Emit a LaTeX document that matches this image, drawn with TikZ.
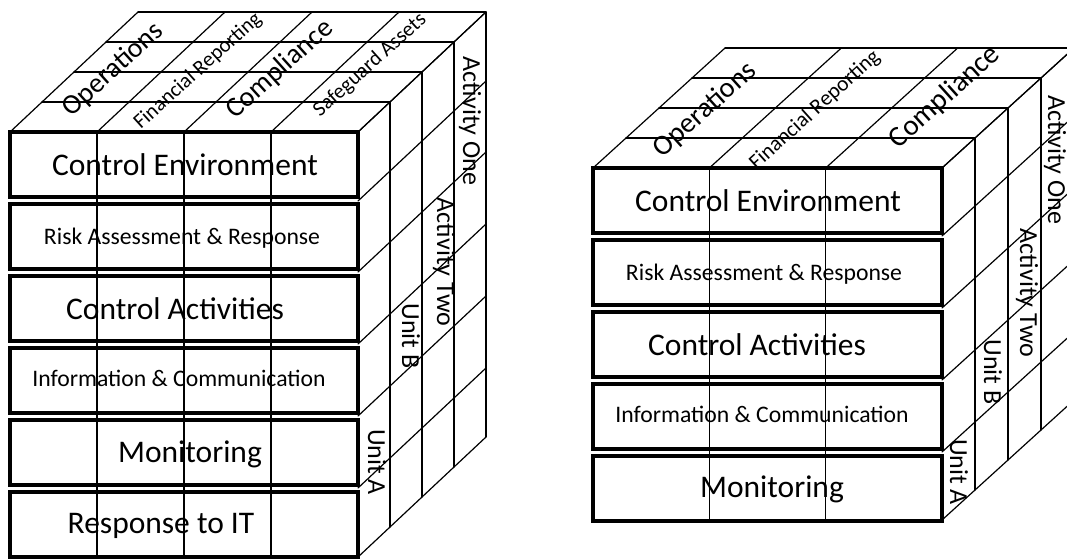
\documentclass[tikz,border=0pt]{standalone}
\usepackage{fontspec}
\setmainfont{Carlito}
\begin{document}
\begin{tikzpicture}[x=1pt,y=-1pt,
  grid/.style={line width=1.2pt, line cap=round},
  box/.style={line width=3.5pt},
  big/.style={font=\fontsize{31.5}{36}\selectfont, anchor=base, inner sep=0pt},
  small/.style={font=\fontsize{23.7}{28}\selectfont, anchor=base, inner sep=0pt},
  toplab/.style={rotate=42, inner sep=0pt},
  sidelab/.style={rotate=-90, inner sep=0pt, font=\fontsize{26}{30}\selectfont}]
\useasboundingbox (0,0) rectangle (1067,558);
% ---------------- left cube ----------------
\foreach \k in {1,...,4} \draw[grid] (10+32*\k,132-30*\k) -- (358+32*\k,132-30*\k);
\foreach \x in {10,97,184,271,358} \draw[grid] (\x,132) -- (\x+128,12);
\foreach \k in {1,...,4} \draw[grid] (358+32*\k,132-30*\k) -- (358+32*\k,557-30*\k);
\foreach \y in {132,201,272,344,416,488,557} \draw[grid] (358,\y) -- (486,\y-120);
\foreach \x in {97,184,271} \draw[grid] (\x,132) -- (\x,557);
\foreach \i in {0,...,5} \draw[box] (10,132+72*\i) rectangle (358,197+72*\i);
\node[toplab, font=\fontsize{28}{32}\selectfont] (lops) at (113,70) {Operations};
\node[toplab, font=\fontsize{21}{25}\selectfont] (lfin) at (198,71) {Financial Reporting};
\node[toplab, font=\fontsize{28}{32}\selectfont] (lcomp) at (280,69) {Compliance};
\node[toplab, font=\fontsize{21}{25}\selectfont] (lsafe) at (370,65) {Safeguard Assets};
\node[sidelab] (lact1) at (470,121) {Activity One};
\node[sidelab] (lact2) at (444,262) {Activity Two};
\node[sidelab] (lunitb) at (411,336) {Unit B};
\node[sidelab] (lunita) at (377,462) {Unit A};
\node[big] (lce) at (185,175) {Control Environment};
\node[small] (lra) at (182,244) {Risk Assessment \& Response};
\node[big] (lca) at (175,319) {Control Activities};
\node[small] (lic) at (179,386) {Information \& Communication};
\node[big] (lmon) at (190,462) {Monitoring};
\node[big] (lrit) at (161,533) {Response to IT};
% ---------------- right cube ----------------
\foreach \k in {1,...,4} \draw[grid] (593+33*\k,168-30*\k) -- (942+33*\k,168-30*\k);
\foreach \x in {593,709.33,825.67,942} \draw[grid] (\x,168) -- (\x+132,48);
\foreach \k in {1,...,4} \draw[grid] (942+33*\k,168-30*\k) -- (942+33*\k,520-30*\k);
\foreach \y in {168,236,308,380,452,520} \draw[grid] (942,\y) -- (1074,\y-120);
\foreach \x in {709.33,825.67} \draw[grid] (\x,168) -- (\x,520);
\foreach \i in {0,...,4} \draw[box] (593,168+72*\i) rectangle (942,233+72*\i);
\node[toplab, font=\fontsize{28.5}{32}\selectfont] (rops) at (705,110) {Operations};
\node[toplab, font=\fontsize{21.5}{25}\selectfont] (rfin) at (815,110) {Financial Reporting};
\node[toplab, font=\fontsize{29}{33}\selectfont] (rcomp) at (945,97) {Compliance};
\node[sidelab] (ract1) at (1055,160) {Activity One};
\node[sidelab] (ract2) at (1027,293) {Activity Two};
\node[sidelab] (runitb) at (993,372) {Unit B};
\node[sidelab] (runita) at (959,472) {Unit A};
\node[big] (rce) at (768,211) {Control Environment};
\node[small] (rra) at (764,280) {Risk Assessment \& Response};
\node[big] (rca) at (757,355) {Control Activities};
\node[small] (ric) at (762,422) {Information \& Communication};
\node[big] (rmon) at (772,497) {Monitoring};
\end{tikzpicture}
\end{document}
